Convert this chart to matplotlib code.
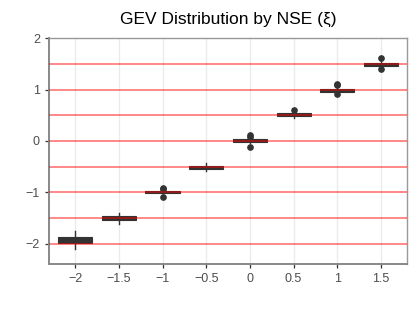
import matplotlib
matplotlib.use("Agg")
import matplotlib.pyplot as plt

plt.rcParams['font.family'] = ['Liberation Sans', 'DejaVu Sans']
plt.rcParams['axes.unicode_minus'] = True

# NSE (xi) categories and estimated boxplot stats
xi_labels = ['\u22122', '\u22121.5', '\u22121', '\u22120.5', '0', '0.5', '1', '1.5']
q1 = [-1.98, -1.53, -1.02, -0.54, -0.02, 0.48, 0.96, 1.46]
med = [-1.93, -1.50, -1.00, -0.51, 0.01, 0.51, 0.99, 1.49]
q3 = [-1.87, -1.46, -0.98, -0.48, 0.04, 0.54, 1.01, 1.51]
whislo = [-2.09, -1.62, -1.04, -0.58, -0.04, 0.44, 0.94, 1.44]
whishi = [-1.75, -1.40, -0.96, -0.43, 0.06, 0.56, 1.04, 1.55]
fliers = [[], [], [-0.91, -0.93, -1.09], [], [0.12, 0.08, -0.12],
          [0.60], [1.11, 1.08, 0.91], [1.61, 1.39]]
ref_levels = [-2, -1.5, -1, -0.5, 0, 0.5, 1, 1.5]

stats = []
for i in range(len(xi_labels)):
    stats.append({'q1': q1[i], 'med': med[i], 'q3': q3[i],
                  'whislo': whislo[i], 'whishi': whishi[i],
                  'fliers': fliers[i]})

fig = plt.figure(figsize=(4.15, 3.12), dpi=100)
ax = fig.add_axes([0.118, 0.154, 0.863, 0.724])

dark = '#333333'
ax.bxp(stats, positions=range(len(xi_labels)), widths=0.78, patch_artist=True,
       showcaps=False,
       boxprops=dict(facecolor=dark, edgecolor=dark, linewidth=0.8),
       medianprops=dict(color=dark, linewidth=1.2),
       whiskerprops=dict(color=dark, linewidth=1.0),
       flierprops=dict(marker='o', markerfacecolor=dark, markeredgecolor=dark,
                       markersize=3.8),
       zorder=3)

for lvl in ref_levels:
    ax.axhline(lvl, color='red', alpha=0.5, linewidth=1.3, zorder=4)

ax.set_xlim(-0.6, len(xi_labels) - 0.4)
ax.set_ylim(-2.39, 2)
ax.set_xticks(range(len(xi_labels)))
ax.set_xticklabels(xi_labels)
ax.set_yticks([-2, -1, 0, 1, 2])
ax.set_yticklabels(['\u22122', '\u22121', '0', '1', '2'])

ax.grid(axis='x', color='#EBEBEB', linewidth=1.0, zorder=0)
ax.grid(axis='y', visible=False)
ax.set_axisbelow(True)

for side in ['top', 'right']:
    ax.spines[side].set_color('#999999')
    ax.spines[side].set_linewidth(1.0)
for side in ['left', 'bottom']:
    ax.spines[side].set_color('#888888')
    ax.spines[side].set_linewidth(1.4)

ax.tick_params(axis='both', colors='#333333', labelcolor='#4D4D4D',
               labelsize=9, length=3, width=0.9)

ax.set_title('GEV Distribution by NSE (\u03be)', fontsize=12.5, pad=10)

fig.savefig('out.png', dpi=100)
